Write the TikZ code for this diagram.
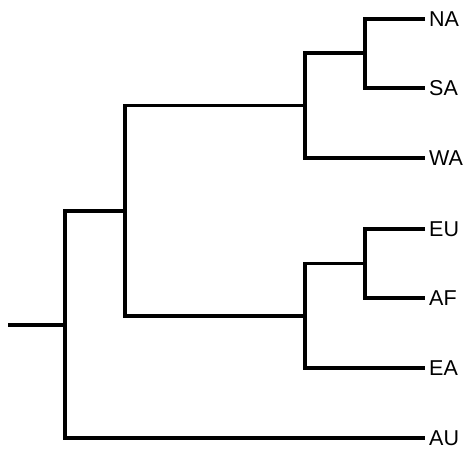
\documentclass[tikz,border=0pt]{standalone}
\usepackage{fontspec}
\setmainfont{Liberation Sans}
\begin{document}
\begin{tikzpicture}[x=1pt,y=-1pt,
  branch/.style={line width=3.1pt, line join=miter},
  leaf/.style={anchor=west, inner xsep=4pt, inner ysep=0pt, font=\fontsize{21.5}{22}\selectfont}]
\useasboundingbox (0,0) rectangle (465,448);
\coordinate (r0) at (8,325);
\coordinate (r) at (65,325);
\coordinate (n5) at (125,211);
\coordinate (n2) at (305,105.5);
\coordinate (n4) at (305,316);
\coordinate (n1) at (365,53);
\coordinate (n3) at (365,263.5);
\node[leaf] (NA) at (425,19) {NA};
\node[leaf] (SA) at (425,88) {SA};
\node[leaf] (WA) at (425,158) {WA};
\node[leaf] (EU) at (425,229) {EU};
\node[leaf] (AF) at (425,298) {AF};
\node[leaf] (EA) at (425,368) {EA};
\node[leaf] (AU) at (425,438) {AU};
\draw[branch] (r0) -- (r);
\draw[branch] (n5) -| (r) |- (AU.west);
\draw[branch] (n2) -| (n5) |- (n4);
\draw[branch] (n1) -| (n2) |- (WA.west);
\draw[branch] (NA.west) -| (n1) |- (SA.west);
\draw[branch] (n3) -| (n4) |- (EA.west);
\draw[branch] (EU.west) -| (n3) |- (AF.west);
\end{tikzpicture}
\end{document}
